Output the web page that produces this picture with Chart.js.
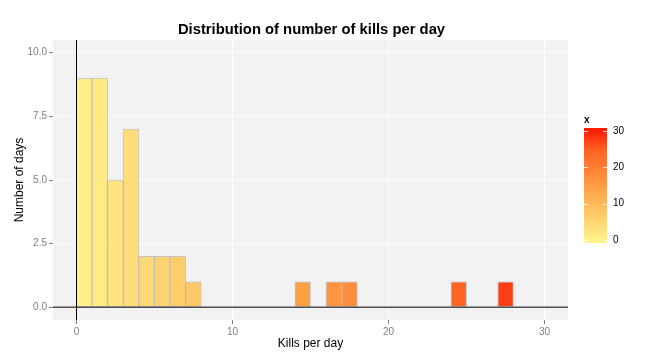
<!DOCTYPE html>
<html><head><meta charset="utf-8">
<script src="https://cdn.jsdelivr.net/npm/chart.js@4"></script>
<style>html,body{margin:0;padding:0;background:#fff;}canvas{display:block;}</style>
</head><body>
<canvas id="c" width="659" height="362"></canvas>
<script>
// ---- data ----
const binStarts = [0,1,2,3,4,5,6,7,8,9,10,11,12,13,14,15,16,17,18,19,20,21,22,23,24,25,26,27,28,29];
const counts    = [9,9,5,7,2,2,2,1,0,0,0,0,0,0,1,0,1,1,0,0,0,0,0,0,1,0,0,1,0,0];
const xTicks = [0,10,20,30];
const yTicks = [0,2.5,5,7.5,10];
const legendTicks = [0,10,20,30];
const titleText = 'Distribution of number of kills per day';
const xTitle = 'Kills per day';
const yTitle = 'Number of days';
const legendTitle = 'x';

// ---- colour scale (yellow -> red) ----
const colorStops = [
  [0,   [255,242,140]],
  [7.5, [255,200,102]],
  [15,  [255,156,68]],
  [24.5,[255,100,35]],
  [30,  [255,30,5]]
];
function colorFor(v){
  if (v <= colorStops[0][0]) return `rgb(${colorStops[0][1].join(',')})`;
  for (let i=1;i<colorStops.length;i++){
    const [v1,c1] = colorStops[i];
    if (v <= v1){
      const [v0,c0] = colorStops[i-1];
      const t = (v - v0)/(v1 - v0);
      const c = c0.map((a,k)=>Math.round(a + (c1[k]-a)*t));
      return `rgb(${c.join(',')})`;
    }
  }
  return `rgb(${colorStops[colorStops.length-1][1].join(',')})`;
}

const points = [], fills = [];
binStarts.forEach((s,i)=>{ if(counts[i]>0){ points.push({x:s+0.5,y:counts[i]}); fills.push(colorFor(s+0.5)); } });

const FONT = "'Liberation Sans', Arial, Helvetica, sans-serif";

const bgPlugin = {
  id:'bg',
  beforeDraw(chart){
    const {ctx, chartArea:a} = chart;
    ctx.save(); ctx.fillStyle = '#F2F2F2';
    ctx.fillRect(a.left, a.top, a.right-a.left, a.bottom-a.top);
    ctx.restore();
  }
};
const refLines = {
  id:'refLines',
  afterDatasetsDraw(chart){
    const {ctx, chartArea:a, scales:{x,y}} = chart;
    ctx.save();
    const y0 = y.getPixelForValue(0);
    ctx.strokeStyle = '#4d4d4d'; ctx.lineWidth = 1.5;
    ctx.beginPath(); ctx.moveTo(a.left, y0); ctx.lineTo(a.right, y0); ctx.stroke();
    const x0 = Math.round(x.getPixelForValue(0)) + 0.5;
    ctx.strokeStyle = '#000'; ctx.lineWidth = 1;
    ctx.beginPath(); ctx.moveTo(x0, a.top); ctx.lineTo(x0, a.bottom); ctx.stroke();
    ctx.restore();
  }
};
const textPlugin = {
  id:'texts',
  afterDraw(chart){
    const {ctx, chartArea:a} = chart;
    ctx.save();
    ctx.fillStyle = '#000';
    ctx.font = `bold 14.8px ${FONT}`;
    ctx.textAlign = 'center'; ctx.textBaseline = 'middle';
    ctx.fillText(titleText, (a.left+a.right)/2 + 1, 30);
    // legend colourbar
    const L = {x:584, top:128, bottom:243, w:23, vmin:-0.8, vmax:30.8};
    const yv = v => L.bottom - (v - L.vmin)/(L.vmax - L.vmin)*(L.bottom - L.top);
    const g = ctx.createLinearGradient(0, L.bottom, 0, L.top);
    for(let k=0;k<=40;k++){ const v = L.vmin + (L.vmax-L.vmin)*k/40; g.addColorStop(k/40, colorFor(v)); }
    ctx.fillStyle = g;
    ctx.fillRect(L.x, L.top, L.w, L.bottom-L.top);
    ctx.strokeStyle = 'rgba(255,255,255,0.8)'; ctx.lineWidth = 1;
    ctx.font = `10px ${FONT}`; ctx.textAlign='left'; ctx.textBaseline='middle';
    legendTicks.forEach(v=>{
      const py = Math.round(yv(v))+0.5;
      ctx.beginPath(); ctx.moveTo(L.x, py); ctx.lineTo(L.x+4, py);
      ctx.moveTo(L.x+L.w-4, py); ctx.lineTo(L.x+L.w, py); ctx.stroke();
      ctx.fillStyle = '#000';
      ctx.fillText(String(v), L.x+L.w+6, yv(v));
    });
    ctx.font = `bold 10px ${FONT}`; ctx.textBaseline='alphabetic';
    ctx.fillText(legendTitle, L.x, 123);
    ctx.restore();
  }
};

new Chart(document.getElementById('c'), {
  type:'bar',
  data:{ datasets:[{
    data: points,
    backgroundColor: fills,
    borderColor: 'rgba(140,140,140,0.45)',
    borderWidth: 1,
    borderSkipped: false,
    barPercentage: 1.0,
    categoryPercentage: 1.0
  }]},
  options:{
    responsive:false, animation:false,
    layout:{ padding:{ left:0, right:91, top:40, bottom:0 } },
    plugins:{ legend:{display:false}, tooltip:{enabled:false}, title:{display:false} },
    scales:{
      x:{
        type:'linear', min:-1.5, max:31.5, offset:false,
        afterBuildTicks(s){ s.ticks = xTicks.map(v=>({value:v})); },
        afterFit(s){ s.height = 42; },
        grid:{ color:'#ffffff', lineWidth:1, tickColor:'#7f7f7f', tickLength:4, offset:false, drawTicks:true },
        border:{ display:false },
        ticks:{ autoSkip:false, maxRotation:0, padding:2, color:'#7f7f7f', font:{family:FONT, size:10},
          callback:v=>String(v) },
        title:{ display:true, text:xTitle, color:'#000', font:{family:FONT, size:12}, padding:{top:0,bottom:11} }
      },
      y:{
        type:'linear', min:-0.5, max:10.5,
        afterBuildTicks(s){ s.ticks = yTicks.map(v=>({value:v})); },
        afterFit(s){ s.width = 53; },
        grid:{ color:'#ffffff', lineWidth:1, tickColor:'#7f7f7f', tickLength:4, drawTicks:true },
        border:{ display:false },
        ticks:{ autoSkip:false, padding:2, color:'#7f7f7f', font:{family:FONT, size:10},
          callback:v=>Number(v).toFixed(1) },
        title:{ display:true, text:yTitle, color:'#000', font:{family:FONT, size:12}, padding:{top:12,bottom:0} }
      }
    }
  },
  plugins:[bgPlugin, refLines, textPlugin]
});
</script>
</body></html>
